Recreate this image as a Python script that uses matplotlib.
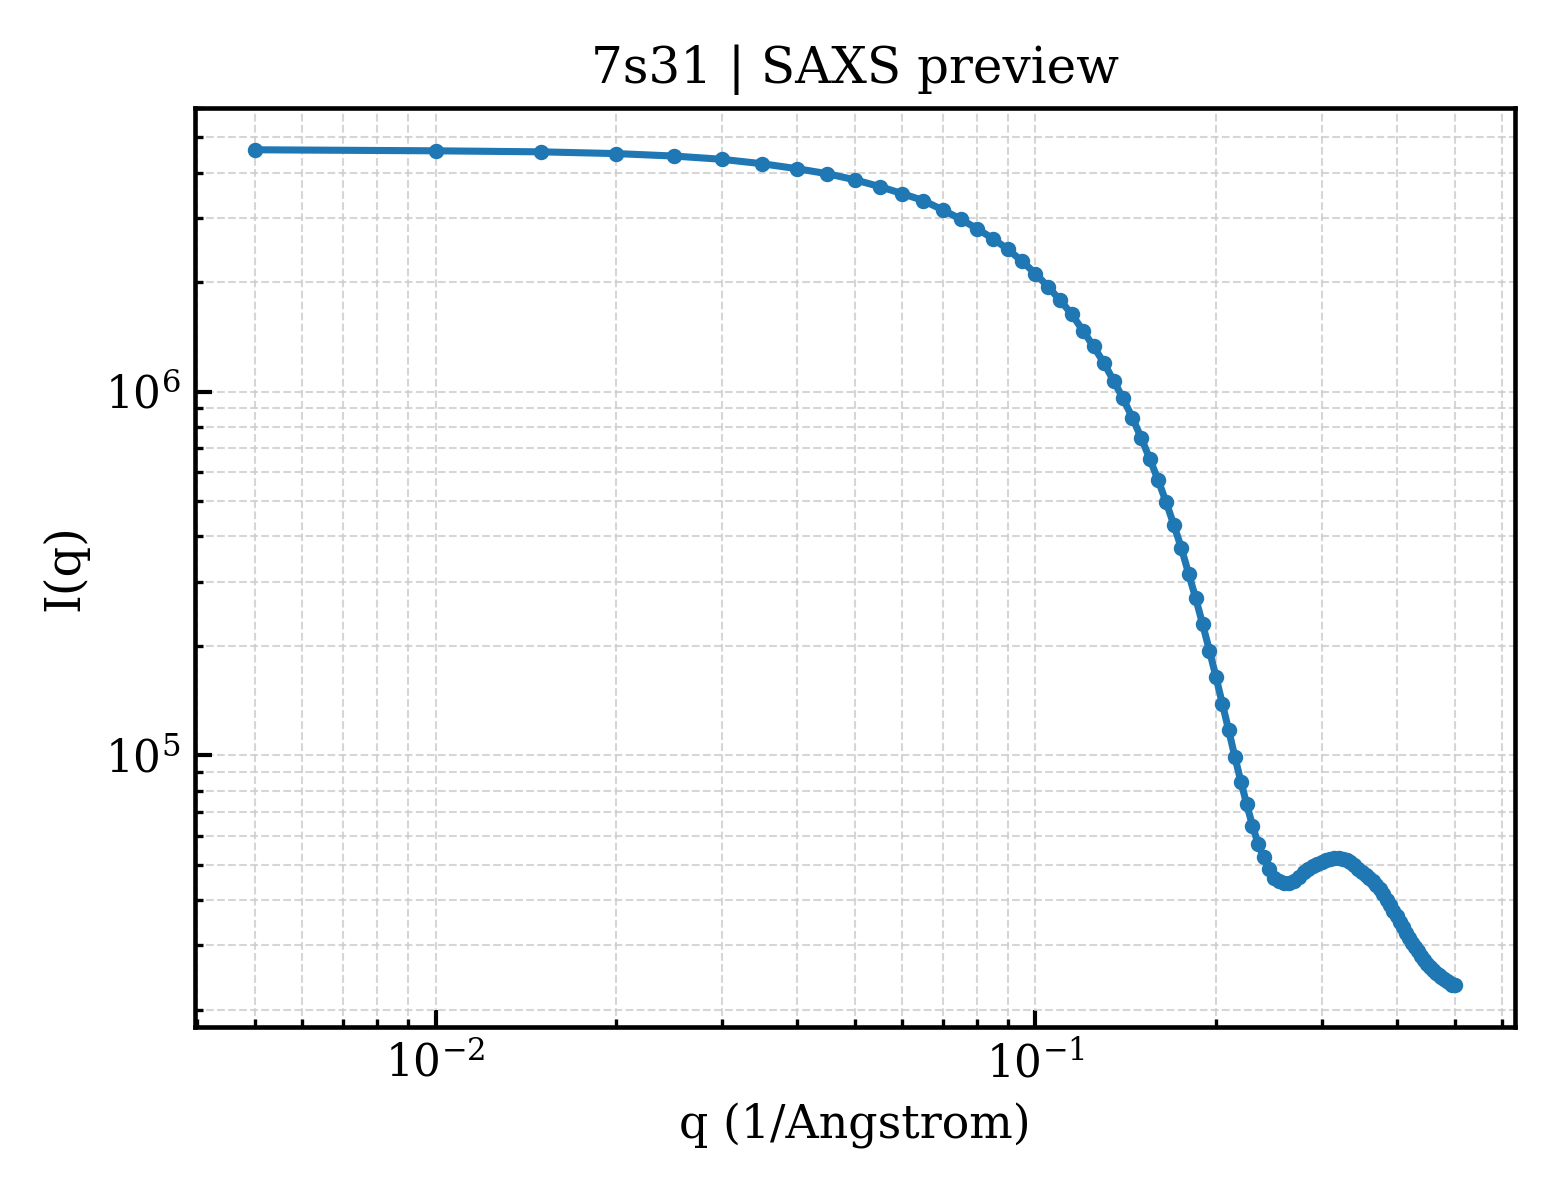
import matplotlib
matplotlib.use('Agg')
from matplotlib import pyplot as plt

q = [0.005, 0.010, 0.015, 0.020, 0.025, 0.030, 0.035, 0.040, 0.045, 0.050,
     0.055, 0.060, 0.065, 0.070, 0.075, 0.080, 0.085, 0.090, 0.095, 0.100,
     0.105, 0.110, 0.115, 0.120, 0.125, 0.130, 0.135, 0.140, 0.145, 0.150,
     0.155, 0.160, 0.165, 0.170, 0.175, 0.180, 0.185, 0.190, 0.195, 0.200,
     0.205, 0.210, 0.215, 0.220, 0.225, 0.230, 0.235, 0.240, 0.245, 0.250,
     0.255, 0.260, 0.265, 0.270, 0.275, 0.280, 0.285, 0.290, 0.295, 0.300,
     0.305, 0.310, 0.315, 0.320, 0.325, 0.330, 0.335, 0.340, 0.345, 0.350,
     0.355, 0.360, 0.365, 0.370, 0.375, 0.380, 0.385, 0.390, 0.395, 0.400,
     0.405, 0.410, 0.415, 0.420, 0.425, 0.430, 0.435, 0.440, 0.445, 0.450,
     0.455, 0.460, 0.465, 0.470, 0.475, 0.480, 0.485, 0.490, 0.495, 0.500]

intensity = [4.62e6, 4.59e6, 4.56e6, 4.51e6, 4.44e6, 4.35e6, 4.23e6, 4.10e6, 3.97e6, 3.82e6,
             3.66e6, 3.50e6, 3.35e6, 3.16e6, 2.98e6, 2.80e6, 2.63e6, 2.46e6, 2.28e6, 2.11e6,
             1.94e6, 1.78e6, 1.63e6, 1.47e6, 1.33e6, 1.20e6, 1.07e6, 9.57e5, 8.48e5, 7.47e5,
             6.54e5, 5.73e5, 4.98e5, 4.31e5, 3.72e5, 3.16e5, 2.70e5, 2.29e5, 1.94e5, 1.64e5,
             1.38e5, 1.17e5, 9.89e4, 8.47e4, 7.33e4, 6.41e4, 5.71e4, 5.25e4, 4.87e4, 4.59e4,
             4.51e4, 4.46e4, 4.46e4, 4.52e4, 4.62e4, 4.77e4, 4.88e4, 4.97e4, 5.04e4, 5.08e4,
             5.15e4, 5.18e4, 5.21e4, 5.21e4, 5.20e4, 5.15e4, 5.08e4, 4.99e4, 4.88e4, 4.79e4,
             4.70e4, 4.59e4, 4.51e4, 4.41e4, 4.28e4, 4.15e4, 4.01e4, 3.87e4, 3.74e4, 3.61e4,
             3.49e4, 3.37e4, 3.25e4, 3.15e4, 3.05e4, 2.97e4, 2.89e4, 2.80e4, 2.73e4, 2.67e4,
             2.62e4, 2.57e4, 2.52e4, 2.49e4, 2.45e4, 2.42e4, 2.39e4, 2.36e4, 2.34e4, 2.33e4]

plt.rcParams['font.family'] = 'DejaVu Serif'
plt.rcParams['mathtext.fontset'] = 'dejavuserif'

fig, ax = plt.subplots(figsize=(5.2, 4), dpi=300)
ax.plot(q, intensity, '-o', color='#1f77b4', lw=1.7, ms=2.7)
ax.set_xscale('log')
ax.set_yscale('log')

ax.set_xlabel('q (1/Angstrom)', fontsize=11)
ax.set_ylabel('I(q)', fontsize=11.5)
ax.set_title('7s31 | SAXS preview', fontsize=12)

ax.tick_params(which='both', direction='in', labelsize=10.5)
ax.tick_params(which='major', length=4, width=1)
ax.tick_params(which='minor', length=2, width=0.8)
for s in ax.spines.values():
    s.set_linewidth(1.1)
ax.grid(True, which='both', ls='--', lw=0.5, color='#cccccc', alpha=0.8)

fig.subplots_adjust(left=0.125, right=0.971, top=0.91, bottom=0.144)
fig.savefig('out.png')
